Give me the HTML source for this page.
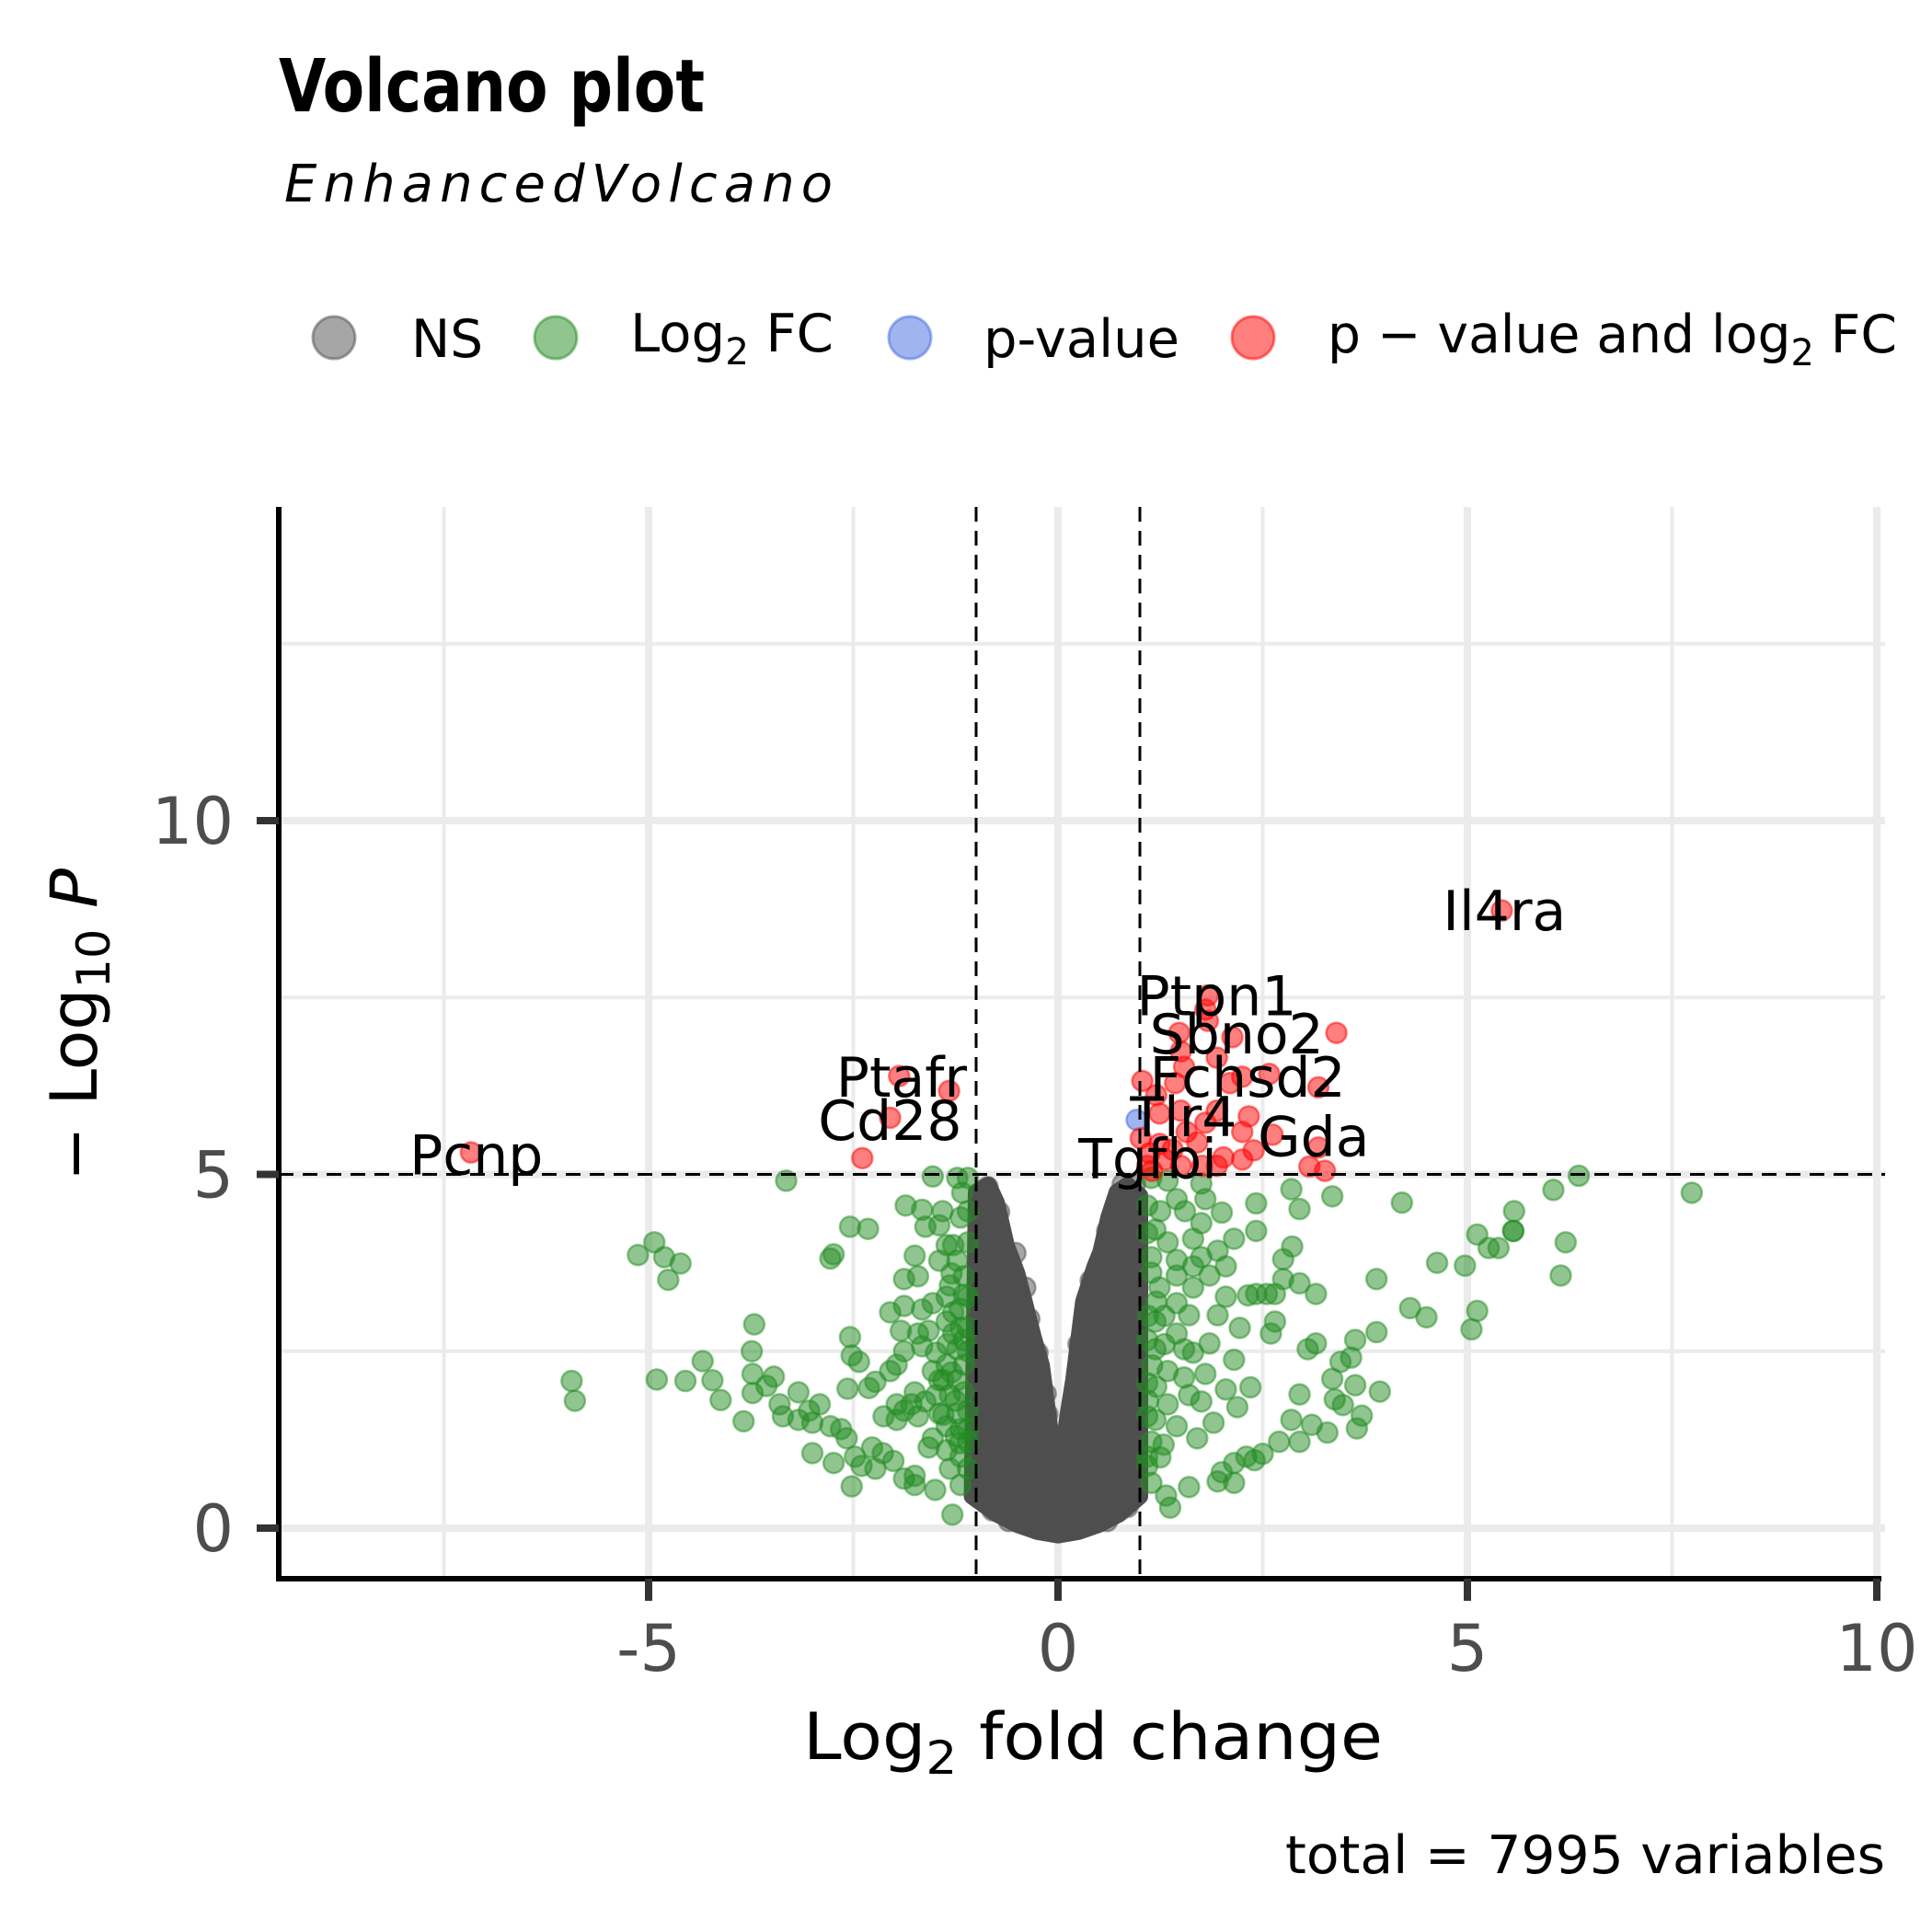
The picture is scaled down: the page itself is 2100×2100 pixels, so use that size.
<!DOCTYPE html>
<html><head><meta charset="utf-8"><style>
html,body{margin:0;padding:0;background:#fff;}
svg{display:block;font-family:"DejaVu Sans","Liberation Sans",sans-serif;}
</style></head><body>
<svg id="chart" width="2100" height="2100" viewBox="0 0 2100 2100" xmlns="http://www.w3.org/2000/svg">
<rect width="2100" height="2100" fill="#fff"/>
<text x="303" y="121" font-size="79" font-weight="bold" textLength="463" lengthAdjust="spacingAndGlyphs">Volcano plot</text>
<text x="309" y="219" font-size="56" font-style="italic" textLength="596" lengthAdjust="spacing">EnhancedVolcano</text>
<g id="legend">
<circle cx="363" cy="367" r="23" fill="#4d4d4d" fill-opacity="0.5" stroke="#4d4d4d" stroke-opacity="0.5" stroke-width="3"/>
<text x="447" y="388" font-size="57" textLength="78" lengthAdjust="spacingAndGlyphs">NS</text>
<circle cx="604" cy="367" r="23" fill="#228B22" fill-opacity="0.5" stroke="#228B22" stroke-opacity="0.5" stroke-width="3"/>
<text x="685" y="382" font-size="57" textLength="221" lengthAdjust="spacingAndGlyphs">Log<tspan font-size="40" dy="14">2</tspan><tspan dy="-14"> FC</tspan></text>
<circle cx="989" cy="367" r="23" fill="#4169E1" fill-opacity="0.5" stroke="#4169E1" stroke-opacity="0.5" stroke-width="3"/>
<text x="1069" y="388" font-size="57" textLength="213" lengthAdjust="spacingAndGlyphs">p-value</text>
<circle cx="1362" cy="367" r="23" fill="#FF0000" fill-opacity="0.5" stroke="#FF0000" stroke-opacity="0.5" stroke-width="3"/>
<text x="1443" y="383" font-size="57" textLength="619" lengthAdjust="spacingAndGlyphs">p − value and log<tspan font-size="40" dy="14">2</tspan><tspan dy="-14"> FC</tspan></text>
</g>
<g id="grid"></g>
<g id="gray"></g>
<g id="green"></g>
<g id="blue"></g>
<g id="red"></g>
<g id="cutoffs"></g>
<g id="labels"></g>
<g id="axes"></g>
<text x="873" y="1912" font-size="70" textLength="630" lengthAdjust="spacingAndGlyphs">Log<tspan font-size="50" dy="16">2</tspan><tspan dy="-16"> fold change</tspan></text>
<text transform="translate(105,1284) rotate(-90)" x="0" y="0" font-size="70" textLength="340" lengthAdjust="spacingAndGlyphs">− Log<tspan font-size="50" dy="14">10</tspan><tspan dy="-14"> </tspan><tspan font-style="italic">P</tspan></text>
<text x="2049" y="2036" font-size="57" text-anchor="end" textLength="652" lengthAdjust="spacingAndGlyphs">total = 7995 variables</text>
</svg>
<script>
const xTicks = [-5, 0, 5, 10];
const xMinor = [-7.5, -2.5, 2.5, 7.5];
const yTicks = [0, 5, 10];
const yMinor = [2.5, 7.5, 12.5];
const fcCutoffs = [-1, 1];
const pCutoff = [5];
const redPoints = [[-7.17,5.31],[-1.94,6.39],[-1.33,6.18],[-2.05,5.80],[-2.39,5.23],[5.42,8.73],
[1.83,7.53],[1.80,7.33],[1.83,7.17],[1.48,7.0],[2.13,6.94],[3.40,7.0],[1.50,6.74],[1.94,6.65],[1.54,6.52],[1.03,6.32],[2.10,6.29],[2.25,6.38],[2.58,6.42],[3.18,6.23],[1.20,6.12],[1.43,6.29],[1.24,5.86],[1.50,5.90],[1.94,5.90],[2.33,5.82],[2.25,5.60],[1.70,5.45],[1.57,5.60],[2.62,5.56],[2.39,5.34],[3.18,5.38],[3.07,5.11],[3.26,5.05],[2.02,5.24],[2.25,5.21],[1.01,5.51],[1.12,5.30],[1.31,5.21],[1.50,5.12],[1.76,5.12],[1.94,5.12],[1.09,5.12],[1.24,5.43],[1.80,5.73],[1.15,5.05],[1.40,5.35]];
const bluePoints = [[0.96,5.77]];
const grayEnvelope = [[-1.0,4.75],[-0.85,4.85],[-0.75,4.6],[-0.63,4.0],[-0.5,3.6],[-0.41,3.2],[-0.3,2.7],[-0.2,2.3],[-0.12,1.6],[-0.05,1.0],[0,0.8],[0.05,1.0],[0.12,1.6],[0.19,2.1],[0.31,3.2],[0.45,3.7],[0.52,3.9],[0.62,4.4],[0.72,4.75],[0.85,4.85],[1.0,4.7],[1.0,0.45],[0.75,0.2],[0.5,0.05],[0.25,-0.05],[0,-0.1],[-0.25,-0.05],[-0.5,0.05],[-0.75,0.2],[-1.05,0.45]];
const grayPoints = [[-0.86,4.82],[-0.72,4.47],[-0.52,3.89],[-0.6,3.56],[-0.35,2.96],[-0.25,2.48],[-0.13,1.61],[0.70,4.5],[0.89,4.56],[0.79,4.86],[0.94,4.86],[0.44,3.17],[0.34,2.91],[0.56,3.56],[-0.95,4.6],[-0.9,4.2],[-1.0,0.6],[-0.8,0.25],[-0.6,0.1],[0.6,0.1],[0.85,0.3],[-0.2,0.0],[0.2,0.0],[-0.45,3.0],[0.25,2.6],[-0.4,3.4],[-0.3,2.2],[0.15,1.3],[0.4,3.5],[-0.65,3.9],[0.6,4.2],[-0.15,1.9],[0.28,2.3]];
const greenPoints = [[-5.94,2.08],[-5.90,1.80],[-5.13,3.86],[-4.93,4.04],[-4.81,3.83],[-4.61,3.74],[-4.76,3.51],[-4.90,2.10],[-4.55,2.08],[-4.34,2.36],[-4.22,2.09],[-4.12,1.81],[-3.84,1.51],[-3.71,2.88],[-3.74,2.50],[-3.73,2.18],[-3.73,1.91],[-3.56,2.01],[-3.47,2.14],[-3.40,1.75],[-3.32,4.91],[-3.36,1.58],[-3.17,1.92],[-3.17,1.53],[-3.04,1.66],[-3.00,1.49],[-2.91,1.75],[-3.00,1.06],[-2.78,1.44],[-2.74,0.92],[-2.65,1.40],[-2.58,1.27],[-2.52,0.59],[-2.54,4.26],[-2.32,4.23],[-2.78,3.81],[-2.74,3.87],[-2.54,2.70],[-2.52,2.44],[-2.43,2.35],[-2.57,1.97],[-2.31,1.98],[-2.23,2.07],[-2.48,1.01],[-2.40,0.88],[-2.27,1.14],[-2.23,0.84],[-2.14,1.06],[-2.01,0.95],[-2.13,1.58],[-2.05,2.22],[-1.97,1.75],[-1.97,1.53],[-1.88,0.70],[-1.75,0.74],[-1.75,0.61],[-1.50,0.54],[-1.29,0.19],[-1.19,0.61],[-1.58,1.14],[-1.88,3.14],[-2.05,3.05],[-1.92,2.79],[-1.88,2.50],[-1.97,2.31],[-1.75,3.85],[-1.88,3.52],[-1.71,3.56],[-1.86,4.56],[-1.66,4.50],[-1.62,4.26],[-1.45,4.28],[-1.53,4.97],[-1.23,4.95],[-1.17,4.74],[-1.19,4.39],[-1.41,4.48],[-1.36,4.00],[-1.28,4.00],[-1.45,3.78],[-1.23,3.78],[-1.66,3.09],[-1.53,3.18],[-1.71,2.75],[-1.58,2.79],[-1.66,2.57],[-1.49,2.48],[-1.36,3.27],[-1.28,3.05],[-1.19,2.83],[-1.15,3.56],[-1.32,3.43],[-1.15,3.30],[-1.75,1.92],[-1.79,1.75],[-1.62,1.79],[-1.71,1.58],[-1.88,1.66],[-1.53,2.22],[-1.45,2.09],[-1.36,2.31],[-1.23,2.53],[-1.15,2.31],[-1.49,1.88],[-1.32,1.88],[-1.15,1.92],[-1.45,1.62],[-1.23,1.62],[-1.10,1.66],[-1.36,1.44],[-1.19,1.40],[-1.10,1.22],[-1.53,1.27],[-1.36,1.10],[-1.19,1.01],[-1.32,0.84],[-1.10,0.84],[-1.28,2.75],[-1.15,2.66],[-1.36,2.92],[-1.40,2.09],[-1.23,2.09],[-1.10,2.83],[-1.10,3.27],[-1.10,4.04],[-1.10,4.48],[-1.10,4.95],[-1.30,2.2],[-1.25,1.8],[-1.2,1.2],[-1.4,1.6],[-1.3,3.6],[-1.2,3.1],[-1.1,2.5],[-1.1,1.4],[-1.25,1.3],[-1.35,2.6],
[6.36,4.98],[6.05,4.78],[5.57,4.48],[5.56,4.20],[5.56,4.20],[5.12,4.15],[5.26,3.96],[5.38,3.96],[6.20,4.04],[6.14,3.57],[4.63,3.75],[4.97,3.71],[3.89,3.52],[4.20,4.60],[4.30,3.11],[4.50,2.98],[5.12,3.07],[5.05,2.81],[7.74,4.74],[2.85,4.79],[2.95,4.51],[3.35,4.69],[2.42,4.59],[2.42,4.20],[2.00,4.46],[2.15,4.09],[2.86,3.98],[2.75,3.80],[2.75,3.52],[2.95,3.46],[3.15,3.31],[2.32,3.29],[2.42,3.31],[2.55,3.31],[2.65,3.31],[2.05,3.27],[2.22,2.83],[2.65,2.92],[2.60,2.75],[3.05,2.53],[3.15,2.61],[3.63,2.66],[3.89,2.77],[2.15,2.38],[3.45,2.35],[3.58,2.41],[3.35,2.11],[3.93,1.93],[3.63,2.02],[2.95,1.89],[3.38,1.82],[3.48,1.74],[3.71,1.59],[3.65,1.41],[3.29,1.35],[3.10,1.46],[2.95,1.22],[2.85,1.53],[2.70,1.22],[2.50,1.05],[2.40,0.96],[2.30,1.01],[2.15,0.92],[2.00,0.79],[1.95,0.66],[2.15,0.64],[1.60,0.58],[1.37,0.29],[1.32,0.46],[1.14,0.64],[1.70,1.27],[1.90,1.49],[2.19,1.71],[2.35,1.99],[2.05,1.96],[1.80,2.18],[1.60,1.88],[1.85,2.61],[1.65,2.48],[1.95,3.01],[1.60,3.01],[1.85,3.57],[2.05,3.70],[1.95,3.92],[1.75,3.83],[1.65,3.40],[1.45,3.57],[1.75,4.31],[1.80,4.65],[1.75,4.87],[1.45,4.65],[1.25,4.48],[1.55,4.48],[1.65,4.09],[1.34,4.04],[1.19,4.22],[1.14,3.83],[1.45,3.79],[1.65,3.70],[1.24,3.40],[1.45,3.18],[1.19,2.92],[1.45,2.75],[1.54,2.53],[1.19,2.53],[1.34,2.22],[1.09,2.05],[1.54,2.13],[1.75,1.79],[1.34,1.75],[1.19,1.53],[1.45,1.44],[1.14,1.22],[1.29,1.18],[1.09,1.01],[1.09,0.88],[1.14,3.61],[1.09,4.17],[1.09,4.56],[1.14,4.95],[1.34,4.91],[1.09,2.66],[1.09,1.58],[1.2,2.0],[1.1,3.0],[1.2,3.2],[1.3,2.6],[1.1,1.8],[1.25,1.0],[1.15,2.3],[1.3,3.0]];
const geneNames = ["Pcnp","Ptafr","Cd28","Il4ra","Ptpn1","Sbno2","Fchsd2","Tlr4","Gda","Tgfbi"];
const geneLabelX = [-7.92,-2.71,-2.93,4.70,0.96,1.12,1.12,0.88,2.44,0.25];
const geneLabelY = [5.0,6.10,5.49,8.45,7.25,6.71,6.10,5.54,5.26,4.95];

const NS = "http://www.w3.org/2000/svg";
const L = 303, R = 2049, T = 551, B = 1716;
const sx = v => 1150 + 89 * v;
const sy = v => 1661 - 76.9 * v;
function mk(tag, attrs, parent) {
  const e = document.createElementNS(NS, tag);
  for (const k in attrs) e.setAttribute(k, attrs[k]);
  parent.appendChild(e);
  return e;
}
const grid = document.getElementById('grid');
xMinor.forEach(v => { const e = mk('line', {x1: sx(v), x2: sx(v), y1: T, y2: B, stroke: '#ebebeb', 'stroke-width': 4}, grid);
  
   });
yMinor.forEach(v => { const e = mk('line', {x1: L, x2: R, y1: sy(v), y2: sy(v), stroke: '#ebebeb', 'stroke-width': 4}, grid);
  
   });
xTicks.forEach(v => { const e = mk('line', {x1: sx(v), x2: sx(v), y1: T, y2: B, stroke: '#ebebeb', 'stroke-width': 8}, grid);
  
   });
yTicks.forEach(v => { const e = mk('line', {x1: L, x2: R, y1: sy(v), y2: sy(v), stroke: '#ebebeb', 'stroke-width': 8}, grid);
  
   });

const gray = document.getElementById('gray');
const poly = mk('polygon', {points: grayEnvelope.map(p => sx(p[0]) + ',' + sy(p[1])).join(' '), fill: '#4f4f4f', stroke: '#4f4f4f', 'stroke-width': 18, 'stroke-linejoin': 'round'}, gray);


function drawPoints(arr, g, color, name) {
  arr.forEach(p => {
    const c = mk('circle', {cx: sx(p[0]), cy: sy(p[1]), r: 11, fill: color, 'fill-opacity': 0.5, stroke: color, 'stroke-opacity': 0.5, 'stroke-width': 2.5}, g);
    
    
  });
}
drawPoints(grayPoints, gray, '#4d4d4d', 'ns-point');
drawPoints(greenPoints, document.getElementById('green'), '#228B22', 'log2fc-point');
drawPoints(bluePoints, document.getElementById('blue'), '#4169E1', 'pvalue-point');
drawPoints(redPoints, document.getElementById('red'), '#FF0000', 'significant-point');

const cut = document.getElementById('cutoffs');
fcCutoffs.forEach(v => { const e = mk('line', {x1: sx(v), x2: sx(v), y1: T, y2: B, stroke: '#000', 'stroke-width': 3, 'stroke-dasharray': '16 10'}, cut);
  
   });
pCutoff.forEach(v => { const e = mk('line', {x1: L, x2: R, y1: sy(v), y2: sy(v), stroke: '#000', 'stroke-width': 3, 'stroke-dasharray': '16 10'}, cut);
  
   });

const lab = document.getElementById('labels');
geneNames.forEach((n, i) => {
  const t = mk('text', {x: sx(geneLabelX[i]), y: sy(geneLabelY[i]), 'font-size': 60, fill: '#000'}, lab);
  t.textContent = n;
  
  
});

const ax = document.getElementById('axes');
let e = mk('line', {x1: L, x2: L, y1: T, y2: B + 3, stroke: '#000', 'stroke-width': 6}, ax);


e = mk('line', {x1: L - 3, x2: 2045, y1: B, y2: B, stroke: '#000', 'stroke-width': 6}, ax);


xTicks.forEach(v => {
  const tk = mk('line', {x1: sx(v), x2: sx(v), y1: B, y2: B + 24, stroke: '#333', 'stroke-width': 8}, ax);
  
  
  const t = mk('text', {x: sx(v), y: 1816, 'font-size': 70, 'text-anchor': 'middle', fill: '#4d4d4d'}, ax);
  t.textContent = String(v);
  
  
});
yTicks.forEach(v => {
  const tk = mk('line', {x1: L - 24, x2: L, y1: sy(v), y2: sy(v), stroke: '#333', 'stroke-width': 8}, ax);
  
  
  const t = mk('text', {x: 254, y: sy(v) + 25, 'font-size': 70, 'text-anchor': 'end', fill: '#4d4d4d'}, ax);
  t.textContent = String(v);
  
  
});
</script>
</body></html>
